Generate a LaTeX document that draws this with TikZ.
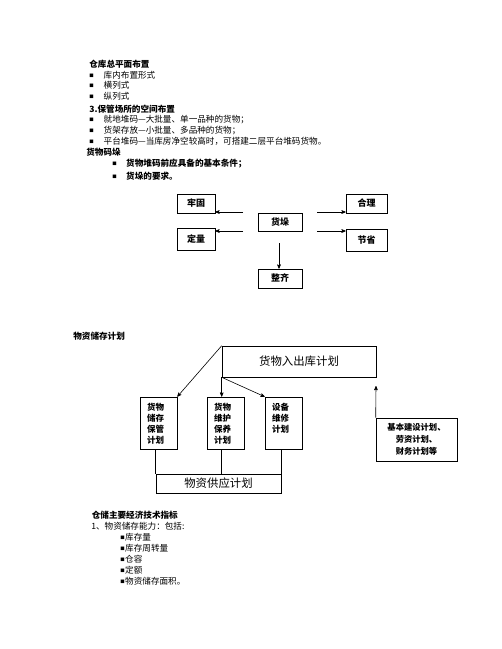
\documentclass[tikz,border=0pt]{standalone}
\usepackage{fontspec}
\newfontfamily\cjk{Noto Sans CJK SC}
\usetikzlibrary{arrows,positioning}
\newcommand{\blt}[1]{\raisebox{1pt}{\fontsize{4.4}{5}\selectfont ■}\hspace{#1}}

\begin{document}
\begin{tikzpicture}[x=1pt,y=-1pt,>=stealth',line width=0.6pt,
		txt/.style={anchor=west,inner sep=0pt,font=\cjk\fontsize{8.6}{10}\selectfont},
		head/.style={txt,font=\cjk\bfseries\fontsize{8.6}{10}\selectfont},
		box/.style={draw,inner sep=0pt,font=\cjk\bfseries\fontsize{9}{10}\selectfont},
		big box/.style={draw,inner sep=0pt,font=\cjk\fontsize{11.4}{13}\selectfont},
		tall box/.style={draw,minimum width=37,minimum height=52},
		plan txt/.style={anchor=north west,align=left,inner sep=0pt,font=\cjk\bfseries\fontsize{8.5}{11}\selectfont}]
	\useasboundingbox (0,0) rectangle (502,649);

	% Layout text
	\node[head] (layout) at (89,64) {仓库总平面布置};
	\node[txt] (inner) at (89,75) {\blt{10pt}库内布置形式};
	\node[txt] (rows) at (89,85.5) {\blt{10pt}横列式};
	\node[txt] (cols) at (89,96.5) {\blt{10pt}纵列式};
	\node[head] (space) at (89,109) {3.保管场所的空间布置};
	\node[txt] (ground) at (89,120) {\blt{10pt}就地堆码—大批量、单一品种的货物；};
	\node[txt] (shelf) at (89,130.5) {\blt{10pt}货架存放—小批量、多品种的货物；};
	\node[txt] (deck) at (89,141) {\blt{10pt}平台堆码—当库房净空较高时，可搭建二层平台堆码货物。};
	\node[head] (piling) at (86,152) {货物码垛};
	\node[head] (cond) at (112,164) {\blt{9.5pt}货物堆码前应具备的基本条件；};
	\node[head] (need) at (112,176.5) {\blt{9.5pt}货垛的要求。};

	% Stack nodes
	\node[box,minimum width=38,minimum height=19] (firm) at (196,203.5) {牢固};
	\node[box,minimum width=38,minimum height=22] (quota) at (196,239.5) {定量};
	\node[box,minimum width=44,minimum height=18] (stack) at (280,222) {货垛};
	\node[box,minimum width=41,minimum height=19] (fair) at (366.5,203.5) {合理};
	\node[box,minimum width=41,minimum height=22] (save) at (366.5,240) {节省};
	\node[box,minimum width=44,minimum height=19] (neat) at (280,278.5) {整齐};

	% Stack edges
	\coordinate (l1) at (243,212);
	\coordinate (l2) at (243,231);
	\coordinate (r1) at (317,212);
	\coordinate (r2) at (317,231);
	\coordinate (d1) at (279,243);
	\draw[->] (l1) -- (l1 -| firm.east);
	\draw[->] (l2) -- (l2 -| quota.east);
	\draw[->] (r1) -- (r1 -| fair.west);
	\draw[->] (r2) -- (r2 -| save.west);
	\draw[->] (d1) -- (d1 |- neat.north);

	% Plan nodes
	\node[head] (plan) at (73,336) {物资储存计划};
	\node[big box,minimum width=154,minimum height=31] (inout) at (299,361.5) {货物入出库计划};
	\node[tall box] (keep) at (158.5,423) {};
	\node[tall box] (care) at (225.5,423) {};
	\node[tall box] (equip) at (283.5,423) {};
	\node[plan txt] (keep txt) at ([xshift=7pt,yshift=-6pt]keep.north west) {货物\\储存\\保管\\计划};
	\node[plan txt] (care txt) at ([xshift=7pt,yshift=-6pt]care.north west) {货物\\维护\\保养\\计划};
	\node[plan txt] (equip txt) at ([xshift=7pt,yshift=-6pt]equip.north west) {设备\\维修\\计划};
	\node[big box,minimum width=125,minimum height=19] (supply) at (218.5,483.5) {物资供应计划};
	\node[draw,minimum width=81,minimum height=43,align=center,inner sep=0pt,
		font=\cjk\bfseries\fontsize{8.3}{12}\selectfont] (other) at (416.5,439.5) {基本建设计划、\\劳资计划、\\财务计划等};

	% Plan edges
	\draw[->] (inout.north west) -- (keep.north east);
	\draw[->] (inout.south west) -- (inout.south west |- care.north);
	\draw[->] (inout.south west) -- (equip.north west);
	\draw (supply.north west |- keep.south) -- (supply.north west);
	\draw (inout.south west |- care.south) -- (inout.south west |- supply.north);
	\draw (supply.north east |- equip.south) -- (supply.north east);
	\coordinate (up) at (376,386);
	\draw[->] (other.north west) -- (up);

	% Index text
	\node[head] (index) at (91.5,515) {仓储主要经济技术指标};
	\node[txt] (ability) at (91,526) {1、物资储存能力：包括:};
	\node[txt] (amount) at (120,537) {\blt{0.5pt}库存量};
	\node[txt] (turnover) at (120,548) {\blt{0.5pt}库存周转量};
	\node[txt] (capacity) at (120,559) {\blt{0.5pt}仓容};
	\node[txt] (norm) at (120,570) {\blt{0.5pt}定额};
	\node[txt] (area) at (120,581) {\blt{0.5pt}物资储存面积。};
\end{tikzpicture}
\end{document}
